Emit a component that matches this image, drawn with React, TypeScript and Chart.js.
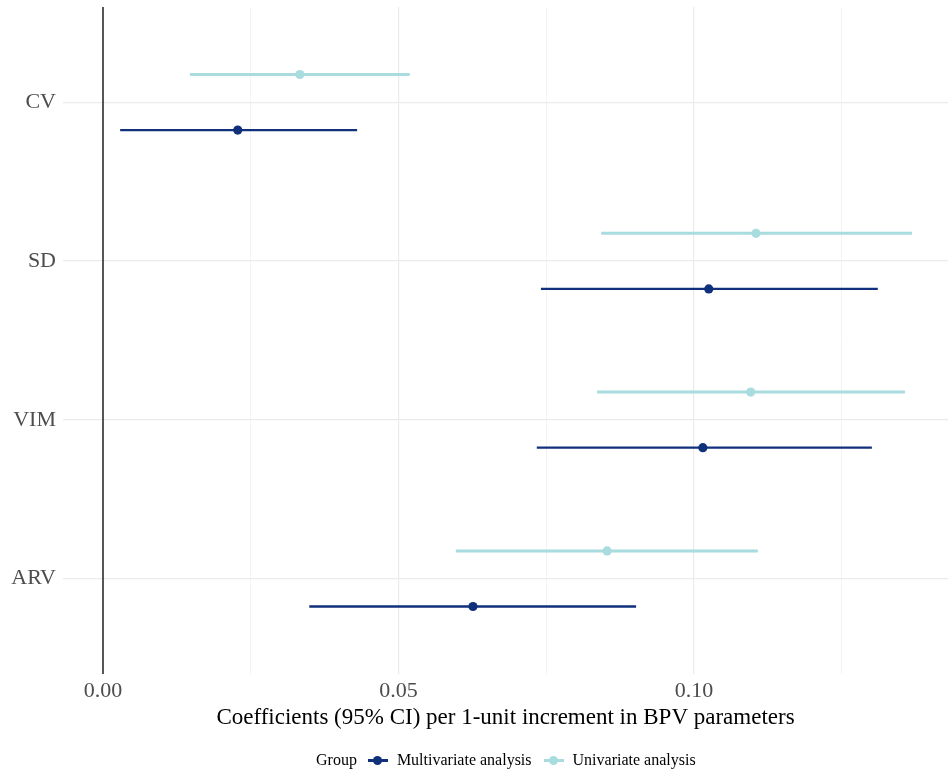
import React, { useEffect, useRef } from 'react';
import { Chart, registerables } from 'chart.js';

Chart.register(...registerables);

const categories = ['CV', 'SD', 'VIM', 'ARV'];
const multiEst = [0.0228, 0.1025, 0.1015, 0.0626];
const multiLow = [0.0029, 0.0741, 0.0734, 0.0349];
const multiHigh = [0.043, 0.1311, 0.1301, 0.0902];
const uniEst = [0.0333, 0.1105, 0.1096, 0.0853];
const uniLow = [0.0147, 0.0843, 0.0836, 0.0597];
const uniHigh = [0.0519, 0.1369, 0.1357, 0.1108];
const xTickValues = [0, 0.05, 0.1];
const xTickLabels = ['0.00', '0.05', '0.10'];
const xMinorTicks = [0.025, 0.075, 0.125];
const groupNames = ['Multivariate analysis', 'Univariate analysis'];

const MULTI_COLOR = '#11307c';
const UNI_COLOR = '#a8dcdf';
const DODGE = 0.175;
const FONT = '"Liberation Serif", "Times New Roman", serif';

const errorBarPlugin = {
  id: 'errorBars',
  beforeDatasetsDraw(chart: any) {
    const { ctx, scales } = chart;
    const xs = scales.x;
    const ys = scales.y;
    chart.data.datasets.forEach((ds: any) => {
      ctx.save();
      ctx.strokeStyle = ds.backgroundColor;
      ctx.lineWidth = ds.ciWidth;
      ctx.lineCap = 'butt';
      ds.data.forEach((p: any, i: number) => {
        const y = ys.getPixelForValue(p.y);
        ctx.beginPath();
        ctx.moveTo(xs.getPixelForValue(ds.low[i]), y);
        ctx.lineTo(xs.getPixelForValue(ds.high[i]), y);
        ctx.stroke();
      });
      ctx.restore();
    });
  },
};

const zeroLinePlugin = {
  id: 'zeroLine',
  beforeDatasetsDraw(chart: any) {
    const { ctx, chartArea, scales } = chart;
    const x = scales.x.getPixelForValue(0);
    ctx.save();
    ctx.strokeStyle = '#000000';
    ctx.lineWidth = 1.3;
    ctx.beginPath();
    ctx.moveTo(x, chartArea.top);
    ctx.lineTo(x, chartArea.bottom);
    ctx.stroke();
    ctx.restore();
  },
};

function LegendIcon({ color }: { color: string }) {
  return (
    <span style={{ position: 'relative', display: 'inline-block', width: 20, height: 12 }}>
      <span style={{ position: 'absolute', left: 0, right: 0, top: 5, height: 2.5, background: color }} />
      <span style={{ position: 'absolute', left: 5.5, top: 1.5, width: 9, height: 9, borderRadius: '50%', background: color }} />
    </span>
  );
}

export default function App() {
  const ref = useRef<HTMLCanvasElement>(null);

  useEffect(() => {
    if (!ref.current) return;
    const chart = new Chart(ref.current, {
      type: 'scatter',
      data: {
        datasets: [
          {
            label: groupNames[0],
            data: multiEst.map((v, i) => ({ x: v, y: i + 1 + DODGE })),
            low: multiLow,
            high: multiHigh,
            ciWidth: 2.3,
            backgroundColor: MULTI_COLOR,
            borderColor: MULTI_COLOR,
            pointRadius: 4.6,
            borderWidth: 0,
          } as any,
          {
            label: groupNames[1],
            data: uniEst.map((v, i) => ({ x: v, y: i + 1 - DODGE })),
            low: uniLow,
            high: uniHigh,
            ciWidth: 3,
            backgroundColor: UNI_COLOR,
            borderColor: UNI_COLOR,
            pointRadius: 4.6,
            borderWidth: 0,
          } as any,
        ],
      },
      options: {
        responsive: false,
        animation: false,
        layout: { autoPadding: false, padding: { top: 7, right: 1, bottom: 39, left: 0 } },
        plugins: {
          legend: { display: false },
          tooltip: { enabled: false },
        },
        scales: {
          x: {
            type: 'linear',
            min: -0.00677,
            max: 0.14298,
            afterBuildTicks: (s: any) => {
              s.ticks = [...xTickValues, ...xMinorTicks].sort((a, b) => a - b).map((v) => ({ value: v }));
            },
            afterFit: (s: any) => {
              s.height = 58;
              s.paddingLeft = 0;
              s.paddingRight = 0;
            },
            ticks: {
              autoSkip: false,
              maxRotation: 0,
              padding: 4,
              color: '#4d4d4d',
              font: { family: FONT, size: 22 },
              callback: (value: any) => {
                const idx = xTickValues.findIndex((t) => Math.abs(t - value) < 1e-9);
                return idx >= 0 ? xTickLabels[idx] : '';
              },
            },
            grid: {
              drawTicks: false,
              color: (c: any) => {
                const v = c.tick ? c.tick.value : 0;
                return xTickValues.some((t) => Math.abs(t - v) < 1e-9) ? '#ebebeb' : '#f3f3f3';
              },
              lineWidth: (c: any) => {
                const v = c.tick ? c.tick.value : 0;
                return xTickValues.some((t) => Math.abs(t - v) < 1e-9) ? 1.2 : 1;
              },
            },
            border: { display: false },
            title: {
              display: true,
              text: 'Coefficients (95% CI) per 1-unit increment in BPV parameters',
              color: '#000000',
              font: { family: FONT, size: 23 },
              padding: { top: 0, bottom: 0 },
            },
          },
          y: {
            type: 'linear',
            min: 0.4,
            max: 4.6,
            reverse: true,
            afterBuildTicks: (s: any) => {
              s.ticks = categories.map((_, i) => ({ value: i + 1 }));
            },
            afterFit: (s: any) => {
              s.width = 63;
              s.paddingTop = 0;
              s.paddingBottom = 0;
            },
            ticks: {
              autoSkip: false,
              padding: 7,
              color: '#4d4d4d',
              font: { family: FONT, size: 22 },
              callback: (value: any) => categories[Math.round(value) - 1] ?? '',
            },
            grid: {
              drawTicks: false,
              color: '#ebebeb',
              lineWidth: 1.2,
            },
            border: { display: false },
          },
        },
      } as any,
      plugins: [zeroLinePlugin, errorBarPlugin],
    });
    return () => chart.destroy();
  }, []);

  return (
    <div style={{ position: 'absolute', left: 0, top: 0, width: 949, height: 771, background: '#ffffff', overflow: 'hidden' }}>
      <canvas ref={ref} width={949} height={771} style={{ display: 'block' }} />
      <div
        style={{
          position: 'absolute',
          left: 316,
          top: 750,
          height: 20,
          display: 'flex',
          alignItems: 'center',
          fontFamily: FONT,
          fontSize: 16,
          color: '#000000',
          whiteSpace: 'nowrap',
        }}
      >
        <span style={{ marginRight: 11 }}>Group</span>
        <LegendIcon color={MULTI_COLOR} />
        <span style={{ marginLeft: 9, marginRight: 12 }}>{groupNames[0]}</span>
        <LegendIcon color={UNI_COLOR} />
        <span style={{ marginLeft: 9 }}>{groupNames[1]}</span>
      </div>
    </div>
  );
}
